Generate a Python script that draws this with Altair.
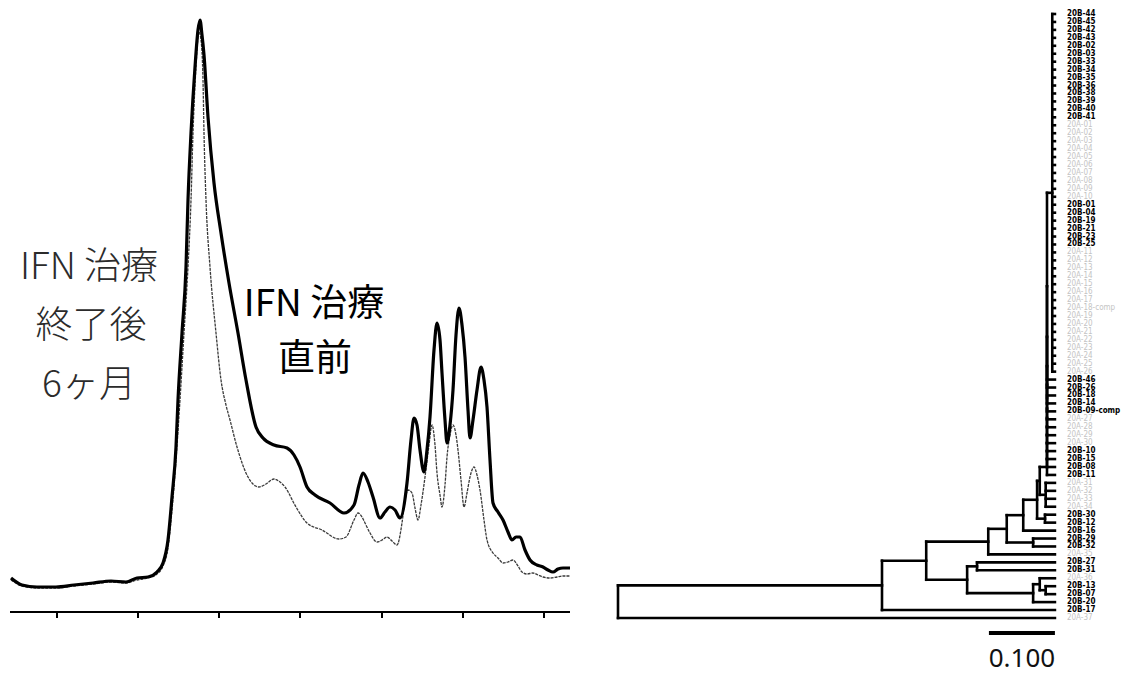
import altair as alt
import pandas as pd

# ---------------- Chromatogram (retention index vs. absorbance, arbitrary units) ----------------
before_rt = [1, 12, 27, 46, 64, 83, 101, 116, 127, 138, 147, 153, 158, 162, 166, 168, 172, 176, 178, 181,
             185, 188, 190, 192, 194, 198, 204, 211, 219, 228, 236, 246, 253, 264, 277, 284, 290, 297, 305, 320,
             334, 344, 349, 353, 358, 363, 370, 375, 380, 385, 390, 397, 401, 404, 407, 410, 414, 417, 420, 424,
             427, 430, 432, 435, 437, 440, 443, 446, 449, 452, 455, 458, 460, 463, 467, 471, 474, 477, 480, 483,
             488, 493, 498, 502, 506, 510, 515, 520, 527, 533, 538, 543, 548, 553, 560]
before_abs = [34, 27, 25, 25, 27, 29, 31, 30, 34, 35, 40, 49, 72, 115, 165, 212, 279, 345, 412, 479,
              545, 582, 592, 577, 557, 495, 429, 379, 329, 279, 232, 185, 174, 167, 164, 157, 145, 125, 117, 109,
              99, 107, 127, 139, 130, 115, 94, 100, 105, 102, 94, 129, 172, 194, 187, 162, 140, 162, 195, 262,
              289, 272, 239, 192, 169, 187, 222, 277, 304, 287, 255, 202, 174, 192, 222, 245, 232, 205, 152, 109,
              100, 92, 80, 72, 75, 75, 62, 52, 47, 45, 42, 40, 43, 44, 44]

after_rt = [1, 12, 27, 46, 64, 83, 101, 116, 127, 138, 147, 153, 158, 162, 166, 170, 174, 178, 181, 183,
            186, 189, 191, 193, 194, 196, 200, 206, 211, 216, 220, 227, 238, 249, 256, 264, 270, 275, 286, 297,
            312, 329, 336, 344, 348, 352, 355, 360, 367, 372, 377, 382, 387, 392, 395, 398, 402, 405, 408, 411,
            415, 419, 422, 425, 427, 430, 432, 435, 437, 440, 443, 446, 448, 451, 454, 457, 460, 464, 467, 470,
            474, 477, 483, 488, 493, 498, 503, 508, 512, 517, 523, 528, 533, 540, 547, 553, 560]
after_abs = [32, 26, 24, 24, 26, 28, 30, 29, 32, 34, 38, 46, 64, 102, 152, 212, 279, 345, 412, 479,
             545, 580, 572, 532, 479, 412, 345, 279, 232, 207, 192, 165, 135, 125, 128, 133, 130, 125, 105, 89,
             82, 73, 75, 92, 99, 95, 89, 79, 70, 72, 75, 71, 67, 89, 112, 122, 119, 104, 92, 107,
             135, 167, 187, 167, 139, 117, 105, 127, 155, 177, 187, 177, 162, 132, 105, 119, 135, 145, 137, 122,
             92, 72, 59, 54, 49, 50, 52, 46, 40, 38, 39, 37, 35, 34, 35, 36, 36]

rt_ticks = [47, 128, 209, 290, 372, 453, 534]
rt_span = [0, 560]

note_after = ["IFN 治療", "終了後", "6ヶ月"]
note_after_rt = [79, 81, 79]
note_after_abs = [344, 285, 226]
note_before = ["IFN 治療", "直前"]
note_before_rt = [304, 305]
note_before_abs = [307, 252]

# ---------------- Phylogenetic tree ----------------
leaf_names = [
    "20B-44", "20B-45", "20B-42", "20B-43", "20B-02", "20B-03", "20B-33", "20B-34", "20B-35", "20B-36",
    "20B-38", "20B-39", "20B-40", "20B-41",
    "20A-01", "20A-02", "20A-03", "20A-04", "20A-05", "20A-06", "20A-07", "20A-08", "20A-09", "20A-10",
    "20B-01", "20B-04", "20B-19", "20B-21", "20B-23", "20B-25",
    "20A-11", "20A-12", "20A-13", "20A-14", "20A-15", "20A-16", "20A-17", "20A-18-comp", "20A-19", "20A-20",
    "20A-21", "20A-22", "20A-23", "20A-24", "20A-25", "20A-26",
    "20B-46", "20B-26", "20B-18", "20B-14", "20B-09-comp",
    "20A-27", "20A-28", "20A-29", "20A-30",
    "20B-10", "20B-15", "20B-08", "20B-11",
    "20A-31", "20A-32", "20A-33", "20A-34",
    "20B-30", "20B-12", "20B-16", "20B-29", "20B-32",
    "20A-35",
    "20B-27", "20B-31",
    "20A-36",
    "20B-13", "20B-07", "20B-20", "20B-17",
    "20A-37",
]
leaf_depth = 0.662

# internal nodes: name, distance from root, children (leaf index or node name), top to bottom
node_names = ["root", "A", "B", "C", "D", "E", "F", "G", "H", "I", "J", "K", "L", "L2", "N", "R",
              "M0", "M1", "M2", "M3", "M4", "M5", "M6", "M7", "M8", "M9", "M10", "M11", "M12", "P"]
node_depth = [0.000, 0.400, 0.467, 0.561, 0.529, 0.544, 0.629, 0.639, 0.648, 0.589, 0.614, 0.629, 0.635,
              0.639, 0.647, 0.648,
              0.650, 0.650, 0.650, 0.650, 0.650, 0.650, 0.650, 0.650, 0.650, 0.650, 0.650, 0.650, 0.650,
              0.658]
node_children = [
    ["A", 76], ["B", 75], ["C", "D"], ["I", 68], ["E", "F"], [69, 70], ["G", 74], [71, "H"], [72, 73],
    ["J", "K"], ["L", 65], [66, 67], ["L2", "N"], ["M12", "R"], [63, 64], [59, 60, 61, 62],
    ["P", 46], ["M0", 47], ["M1", 48], ["M2", 49], ["M3", 50], ["M4", 51], ["M5", 52], ["M6", 53],
    ["M7", 54], ["M8", 55], ["M9", 56], ["M10", 57], ["M11", 58],
    list(range(0, 46)),
]

scale_bar = [0.562, 0.662]
scale_bar_text = "0.100"

# ---------------- build tables ----------------
curves = pd.concat([
    pd.DataFrame({"rt": before_rt, "abs": before_abs, "sample": "before"}),
    pd.DataFrame({"rt": after_rt, "abs": after_abs, "sample": "after"}),
])

depth_of = dict(zip(node_names, node_depth))
children_of = dict(zip(node_names, node_children))


def pos_y(n):
    if isinstance(n, int):
        return float(n)
    ch = children_of[n]
    return (pos_y(ch[0]) + pos_y(ch[-1])) / 2


def pos_x(n):
    return leaf_depth if isinstance(n, int) else depth_of[n]


segs = []
for name in node_names:
    ch = children_of[name]
    d = depth_of[name]
    segs.append({"x": d, "x2": d, "y": pos_y(ch[0]), "y2": pos_y(ch[-1])})
    for c in ch:
        yc = pos_y(c)
        segs.append({"x": d, "x2": pos_x(c), "y": yc, "y2": yc})
segs = pd.DataFrame(segs)

leaves = pd.DataFrame({
    "name": leaf_names,
    "idx": list(range(len(leaf_names))),
    "depth": leaf_depth,
    "faint": [n.startswith("20A") for n in leaf_names],
})

# ---------------- scales ----------------
xs = alt.Scale(domain=[0, 560], range=[10, 570], nice=False, zero=False)
ys = alt.Scale(domain=[0, 600], range=[612, 12], nice=False, zero=False)
tx = alt.Scale(domain=[0, 0.7], range=[618, 1080], nice=False, zero=False)
ty = alt.Scale(domain=[0, 76], range=[14, 618], nice=False, zero=False)

# ---------------- chromatogram layers ----------------
line_before = alt.Chart(curves[curves["sample"] == "before"]).mark_line(
    color="black", strokeWidth=3.2, interpolate="monotone", strokeJoin="round"
).encode(x=alt.X("rt:Q", scale=xs, axis=None), y=alt.Y("abs:Q", scale=ys, axis=None))

line_after = alt.Chart(curves[curves["sample"] == "after"]).mark_line(
    color="#3a3a3a", strokeWidth=1.3, interpolate="monotone", strokeDash=[3, 1]
).encode(x=alt.X("rt:Q", scale=xs, axis=None), y=alt.Y("abs:Q", scale=ys, axis=None))

axis_df = pd.DataFrame({"x": [rt_span[0]], "x2": [rt_span[1]], "y": [0]})
axis_line = alt.Chart(axis_df).mark_rule(color="black", strokeWidth=2).encode(
    x=alt.X("x:Q", scale=xs, axis=None), x2="x2:Q", y=alt.Y("y:Q", scale=ys, axis=None)
)
tick_df = pd.DataFrame({"x": rt_ticks, "y": 0, "y2": -6})
axis_ticks = alt.Chart(tick_df).mark_rule(color="black", strokeWidth=2).encode(
    x=alt.X("x:Q", scale=xs, axis=None), y=alt.Y("y:Q", scale=ys, axis=None), y2="y2:Q"
)

note_a = alt.Chart(pd.DataFrame({"t": note_after, "x": note_after_rt, "y": note_after_abs})).mark_text(
    font="Noto Sans CJK JP", fontSize=37, fontWeight=300, color="#2b2b2b", align="center", baseline="middle"
).encode(x=alt.X("x:Q", scale=xs, axis=None), y=alt.Y("y:Q", scale=ys, axis=None), text="t:N")

note_b = alt.Chart(pd.DataFrame({"t": note_before, "x": note_before_rt, "y": note_before_abs})).mark_text(
    font="Noto Sans CJK JP", fontSize=37, fontWeight="normal", color="black", align="center", baseline="middle"
).encode(x=alt.X("x:Q", scale=xs, axis=None), y=alt.Y("y:Q", scale=ys, axis=None), text="t:N")

chrom = alt.layer(line_after, line_before, axis_line, axis_ticks, note_a, note_b)

# ---------------- tree layers ----------------
branches = alt.Chart(segs).mark_rule(color="black", strokeWidth=2.6, strokeCap="square").encode(
    x=alt.X("x:Q", scale=tx, axis=None), x2="x2:Q",
    y=alt.Y("y:Q", scale=ty, axis=None), y2="y2:Q",
)

leaf_bold = alt.Chart(leaves[~leaves["faint"]]).mark_text(
    font="DejaVu Sans Condensed", fontSize=8, fontWeight="bold", color="black",
    align="left", baseline="middle", dx=12
).encode(x=alt.X("depth:Q", scale=tx, axis=None), y=alt.Y("idx:Q", scale=ty, axis=None), text="name:N")

leaf_faint = alt.Chart(leaves[leaves["faint"]]).mark_text(
    font="DejaVu Sans Condensed", fontSize=8, color="#c4c4c4",
    align="left", baseline="middle", dx=12
).encode(x=alt.X("depth:Q", scale=tx, axis=None), y=alt.Y("idx:Q", scale=ty, axis=None), text="name:N")

bar_df = pd.DataFrame({"x": [scale_bar[0]], "x2": [scale_bar[1]], "y": [77.9],
                       "xm": [(scale_bar[0] + scale_bar[1]) / 2], "ym": [81.2], "t": [scale_bar_text]})
bar = alt.Chart(bar_df).mark_rule(color="black", strokeWidth=4).encode(
    x=alt.X("x:Q", scale=tx, axis=None), x2="x2:Q", y=alt.Y("y:Q", scale=ty, axis=None)
)
bar_label = alt.Chart(bar_df).mark_text(
    font="Noto Sans", fontSize=26, color="#111111", align="center", baseline="middle"
).encode(x=alt.X("xm:Q", scale=tx, axis=None), y=alt.Y("ym:Q", scale=ty, axis=None), text="t:N")

tree = alt.layer(branches, leaf_bold, leaf_faint, bar, bar_label)

chart = alt.layer(chrom, tree).resolve_scale(x="independent", y="independent").properties(
    width=1123, height=674, padding=0, autosize="none", background="white"
).configure_view(stroke=None)

chart.save("out.html", embed_options={"renderer": "svg", "actions": False})
